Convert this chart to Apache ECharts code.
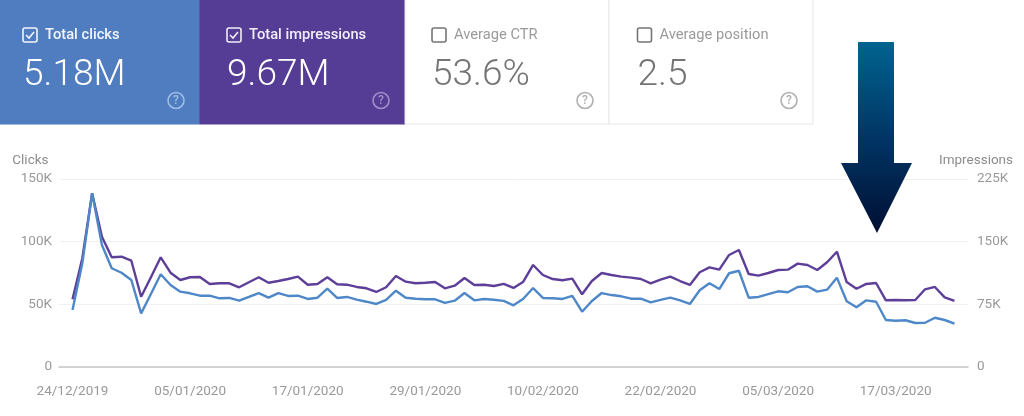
<!DOCTYPE html>
<html>
<head>
<meta charset="utf-8">
<title>Search performance</title>
<style>
	html, body { margin: 0; padding: 0; background: #fff; }
	#chart { width: 1024px; height: 416px; }
</style>
<script src="https://cdn.jsdelivr.net/npm/echarts@6/dist/echarts.min.js"></script>
</head>
<body>
<div id="chart"></div>
<script>
// one value per day, 24/12/2019 to 23/03/2020, in thousands
var clicks = [45.5, 82.7, 138.6, 97.3, 78.8, 75.2, 69.4, 42.8, 58.2, 74, 65.4, 60.1, 58.8,
	56.9, 56.9, 54.8, 55.1, 52.9, 55.9, 59, 55.3, 59, 56.7, 56.9, 54.3, 55.3, 62.5, 55.1,
	55.9, 53.7, 52.1, 50.3, 53.5, 60.9, 55.3, 54.5, 54, 54, 51.1, 52.9, 59, 53.2, 54.3,
	53.7, 52.8, 49.2, 54.5, 63, 55.1, 54.8, 54.3, 56.7, 44.1, 52.7, 59, 57.4, 56.4, 54.5,
	54.5, 51.6, 53.5, 55.3, 53.2, 50.3, 61.2, 66.8, 62.2, 74.8, 76.8, 55.3, 55.9, 58.2,
	60.4, 59.6, 63.8, 64.4, 60.1, 61.7, 71.3, 52.4, 47.6, 53.2, 52.1, 37.5, 36.9, 37.3,
	35.1, 35.3, 39.3, 37.5, 34.6];
var impressions = [81, 130.1, 207.9, 156, 131.3, 132, 127.2, 84.1, 107.4, 131.3, 112.9, 104.1,
	107.4, 107.7, 99.4, 100.2, 100.2, 95.4, 101.4, 107.4, 100.9, 102.9, 105.3, 108.1, 98.5,
	99.4, 107.4, 99, 98.5, 95.8, 94.2, 89.8, 95.4, 108.9, 102.1, 100.2, 100.9, 101.7, 94.2,
	97.3, 106.5, 98.2, 98.5, 97, 99.4, 94.6, 102.1, 122.1, 110.1, 105.3, 103.8, 105.7, 87,
	102.9, 112.5, 110.1, 108.1, 106.9, 105.3, 100.2, 104.5, 108.1, 102.9, 98.2, 113.4, 119.3,
	116.5, 134.1, 140, 111.3, 109.3, 112.5, 116.1, 116.5, 123.7, 122.1, 116.1, 125.3, 138,
	101.7, 93.7, 99.4, 100.5, 79.8, 80.2, 79.8, 80.2, 93, 95.8, 83.4, 79];
var tickDays = [0, 12, 24, 36, 48, 60, 72, 84];
var tickDates = ["24/12/2019", "05/01/2020", "17/01/2020", "29/01/2020", "10/02/2020", "22/02/2020", "05/03/2020", "17/03/2020"];
var cardLabels = ["Total clicks", "Total impressions", "Average CTR", "Average position"];
var cardValues = ["5.18M", "9.67M", "53.6%", "2.5"];

var FONT = "Roboto";

var withDay = function(values) {
	return values.map(function(v, i) {
		return [i, v];
	});
};

var kLabel = function(v) {
	return v === 0 ? "0" : v + "K";
};

// one summary card: background, checkbox, label, big number, help icon
var card = function(x, w, idx, opt) {
	var items = [];
	items.push({
		type: "rect",
		shape: { x: x, y: -1, width: w, height: 125 },
		style: { fill: opt.bg, stroke: opt.border, lineWidth: 1 }
	});
	items.push({
		type: "rect",
		shape: { x: x + opt.box, y: 28, width: 14, height: 14, r: 2 },
		style: { fill: "none", stroke: opt.boxColor, lineWidth: 1.6 }
	});
	if (opt.checked) {
		items.push({
			type: "polyline",
			shape: { points: [[x + opt.box + 3, 35], [x + opt.box + 6, 38], [x + opt.box + 11, 32]] },
			style: { fill: "none", stroke: opt.boxColor, lineWidth: 1.6 }
		});
	}
	items.push({
		type: "text",
		style: { x: x + opt.box + 22, y: 35, text: cardLabels[idx], fill: opt.label, font: opt.weight + " 14.7px " + FONT, textVerticalAlign: "middle" }
	});
	items.push({
		type: "text",
		style: { x: x + opt.box, y: 76, text: cardValues[idx], fill: opt.value, font: "300 37px " + FONT, textVerticalAlign: "middle" }
	});
	items.push({
		type: "circle",
		shape: { cx: x + w - 24, cy: 100.5, r: 8 },
		style: { fill: "none", stroke: opt.help, lineWidth: 1.6 }
	});
	items.push({
		type: "text",
		style: { x: x + w - 24, y: 100.5, text: "?", fill: opt.help, font: "500 12px " + FONT, textAlign: "center", textVerticalAlign: "middle" }
	});
	return items;
};

var graphics = [].concat(
	card(0, 200, 0, { bg: "#4f7dc0", border: "#4f7dc0", box: 23, boxColor: "#f2f5fb", checked: true, label: "#f2f5fb", value: "#fff", help: "#9dbde6", weight: 500 }),
	card(200, 205, 1, { bg: "#553c94", border: "#553c94", box: 27, boxColor: "#f0edf7", checked: true, label: "#f0edf7", value: "#fff", help: "#a08fcb", weight: 500 }),
	card(405, 204, 2, { bg: "#fff", border: "#e6e6e6", box: 27, boxColor: "#757575", checked: false, label: "#9a9a9a", value: "#757575", help: "#b0b0b0", weight: 400 }),
	card(609, 204, 3, { bg: "#fff", border: "#e6e6e6", box: 28.5, boxColor: "#757575", checked: false, label: "#9a9a9a", value: "#757575", help: "#b0b0b0", weight: 400 })
);

// the big arrow over the chart
graphics.push({
	type: "polygon",
	z: 20,
	shape: { points: [[858, 42], [894, 42], [894, 163], [912, 163], [877, 233], [841, 163], [858, 163]] },
	style: {
		fill: new echarts.graphic.LinearGradient(0, 0, 0, 1, [
			{ offset: 0, color: "#00648f" },
			{ offset: 0.5, color: "#013565" },
			{ offset: 1, color: "#000f33" }
		])
	}
});

var chart = echarts.init(document.getElementById("chart"), null, { renderer: "canvas" });

var yAxisBase = function(pos, name, max, interval) {
	return {
		type: "value",
		position: pos,
		name: name,
		nameLocation: "end",
		nameGap: 11,
		nameTextStyle: pos === "left"
			? { color: "#8c8c8c", fontFamily: FONT, fontSize: 13.5, align: "right", padding: [0, 24, 0, 0] }
			: { color: "#8c8c8c", fontFamily: FONT, fontSize: 13.5, align: "left", padding: [0, 0, 0, -29] },
		min: 0,
		max: max,
		interval: interval,
		axisLine: { show: false },
		axisTick: { show: false },
		splitLine: { show: pos === "left", lineStyle: { color: "#f1f1f1", width: 1 } },
		axisLabel: {
			color: "#999",
			fontFamily: FONT,
			fontSize: 13.5,
			margin: pos === "left" ? 7 : 9,
			formatter: kLabel
		}
	};
};

chart.setOption({
	animation: false,
	backgroundColor: "#fff",
	graphic: graphics,
	grid: { left: 59, right: 56, top: 179, bottom: 49, containLabel: false },
	xAxis: {
		type: "value",
		min: -1.38,
		max: 91.38,
		splitLine: { show: false },
		axisTick: { show: false },
		axisLine: { show: true, onZero: false, lineStyle: { color: "#c6c6c6", width: 1.5 } },
		axisLabel: {
			color: "#999",
			fontFamily: FONT,
			fontSize: 13.5,
			margin: 18,
			customValues: tickDays,
			formatter: function(v) {
				return tickDates[tickDays.indexOf(v)];
			}
		}
	},
	yAxis: [
		yAxisBase("left", "Clicks", 150, 50),
		yAxisBase("right", "Impressions", 225, 75)
	],
	series: [
		{
			name: "Impressions",
			type: "line",
			yAxisIndex: 1,
			data: withDay(impressions),
			showSymbol: false,
			smooth: false,
			lineStyle: { color: "#5d3f99", width: 2.4 }
		},
		{
			name: "Clicks",
			type: "line",
			yAxisIndex: 0,
			data: withDay(clicks),
			showSymbol: false,
			smooth: false,
			lineStyle: { color: "#4f88c8", width: 2.4 }
		}
	]
});
</script>
</body>
</html>
